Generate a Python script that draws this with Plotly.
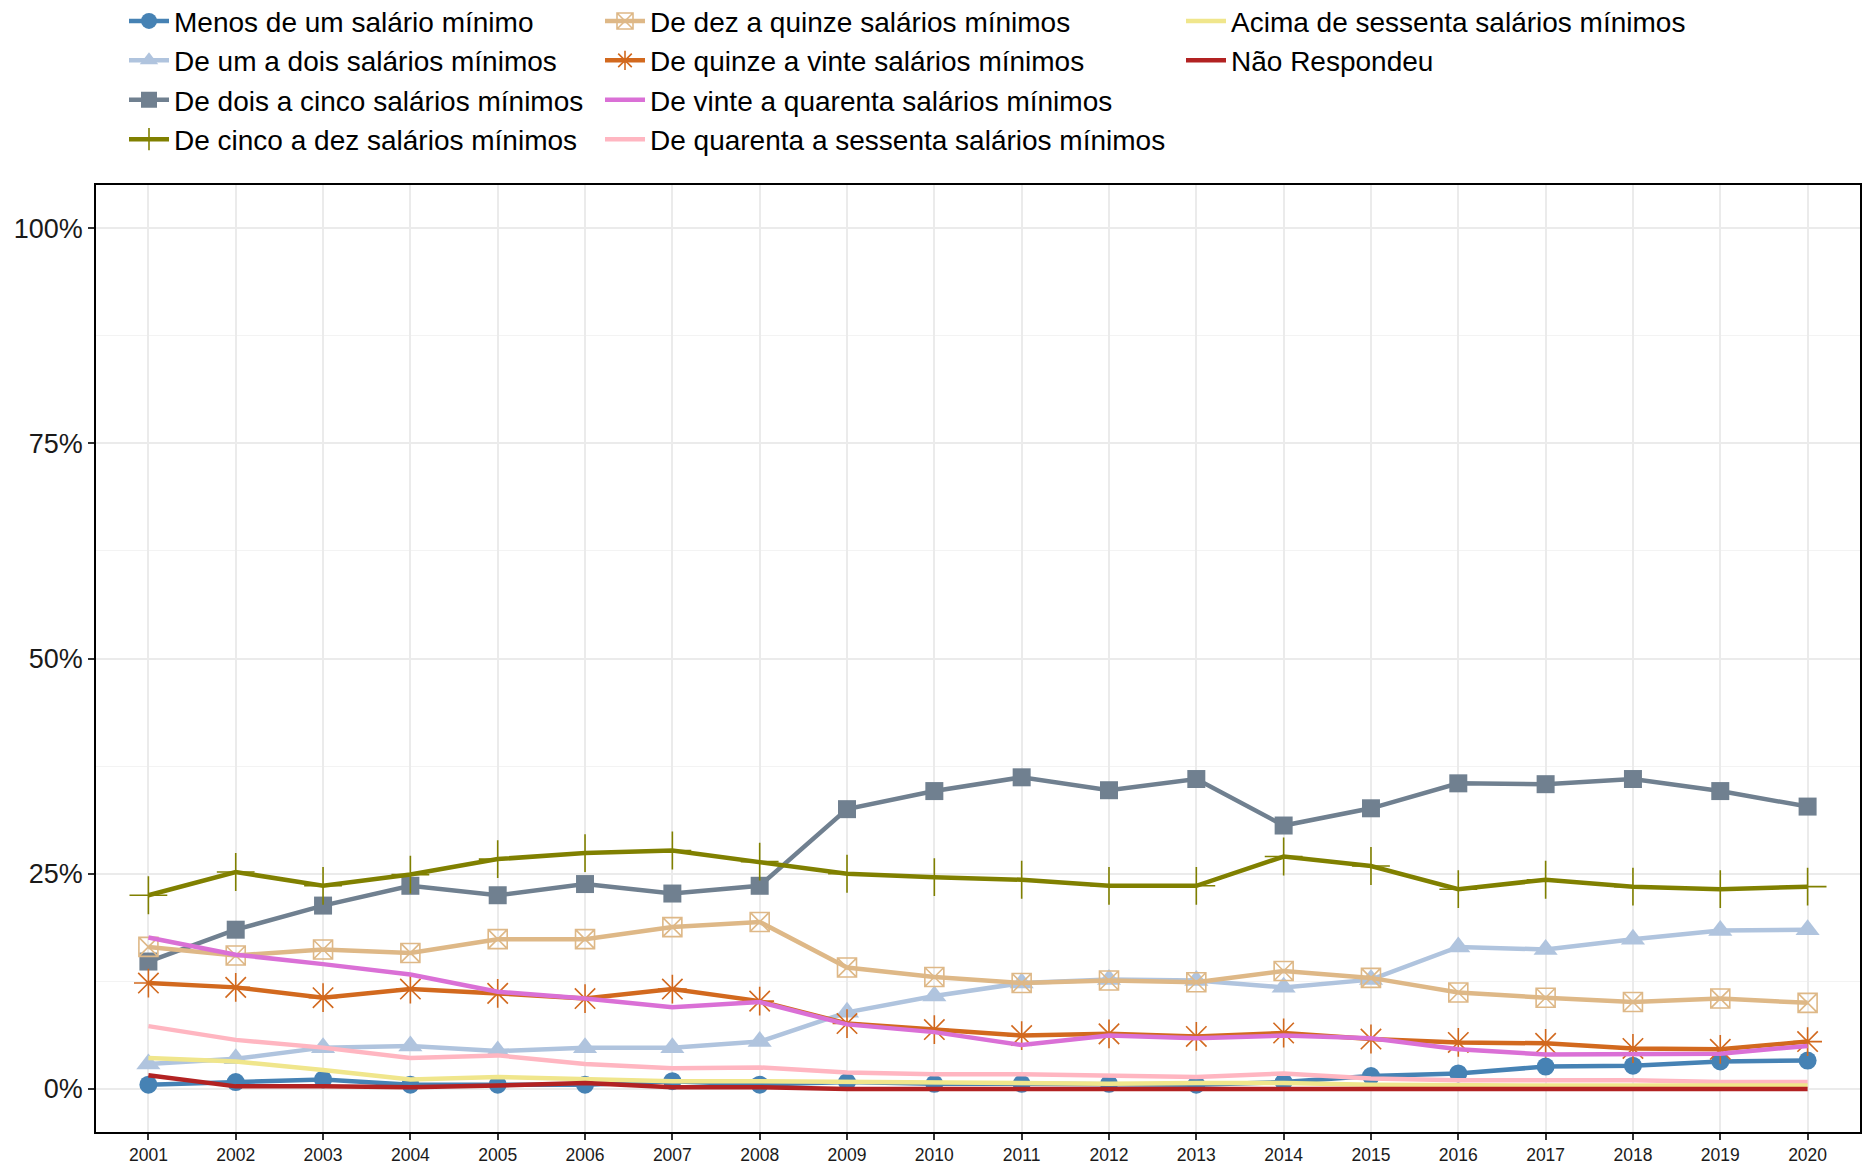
import plotly.graph_objects as go

anos = list(range(2001, 2021))

categorias = [
    "Menos de um salário mínimo",
    "De um a dois salários mínimos",
    "De dois a cinco salários mínimos",
    "De cinco a dez salários mínimos",
    "De dez a quinze salários mínimos",
    "De quinze a vinte salários mínimos",
    "De vinte a quarenta salários mínimos",
    "De quarenta a sessenta salários mínimos",
    "Acima de sessenta salários mínimos",
    "Não Respondeu",
]

# Percentual de respondentes por faixa de renda (%)
menos_de_um = [0.5, 0.8, 1.1, 0.5, 0.5, 0.5, 0.9, 0.5, 0.8, 0.6,
               0.6, 0.6, 0.5, 0.8, 1.5, 1.8, 2.6, 2.7, 3.2, 3.3]
um_a_dois = [2.9, 3.5, 4.8, 5.0, 4.4, 4.8, 4.8, 5.5, 8.9, 10.8,
             12.3, 12.7, 12.6, 11.8, 12.7, 16.5, 16.2, 17.4, 18.4, 18.5]
dois_a_cinco = [14.8, 18.5, 21.3, 23.6, 22.5, 23.8, 22.7, 23.6, 32.5, 34.6,
                36.2, 34.7, 36.0, 30.6, 32.6, 35.5, 35.4, 36.0, 34.6, 32.8]
cinco_a_dez = [22.5, 25.2, 23.6, 24.9, 26.7, 27.4, 27.7, 26.4, 25.0, 24.6,
               24.3, 23.6, 23.6, 27.0, 25.9, 23.2, 24.3, 23.5, 23.2, 23.5]
dez_a_quinze = [16.5, 15.5, 16.2, 15.8, 17.4, 17.4, 18.8, 19.4, 14.1, 13.0,
                12.3, 12.6, 12.4, 13.7, 12.9, 11.2, 10.6, 10.1, 10.5, 10.0]
quinze_a_vinte = [12.3, 11.8, 10.6, 11.6, 11.1, 10.5, 11.6, 10.2, 7.6, 6.9,
                  6.2, 6.4, 6.1, 6.5, 5.8, 5.4, 5.3, 4.7, 4.6, 5.5]
vinte_a_quarenta = [17.6, 15.6, 14.5, 13.3, 11.3, 10.5, 9.5, 10.1, 7.5, 6.6,
                    5.1, 6.2, 5.9, 6.2, 5.9, 4.6, 4.0, 4.0, 4.1, 5.0]
quarenta_a_sessenta = [7.3, 5.7, 4.8, 3.6, 3.9, 2.9, 2.4, 2.5, 1.9, 1.7,
                       1.7, 1.5, 1.4, 1.8, 1.2, 1.0, 1.0, 1.0, 0.8, 0.8]
acima_de_sessenta = [3.6, 3.2, 2.2, 1.1, 1.4, 1.2, 0.9, 0.9, 0.8, 0.7,
                     0.6, 0.6, 0.7, 0.7, 0.5, 0.4, 0.4, 0.4, 0.4, 0.4]
nao_respondeu = [1.6, 0.3, 0.3, 0.2, 0.4, 0.7, 0.2, 0.2, 0.0, 0.0,
                 0.0, 0.0, 0.0, 0.0, 0.0, 0.0, 0.0, 0.0, 0.0, 0.0]

series = [menos_de_um, um_a_dois, dois_a_cinco, cinco_a_dez, dez_a_quinze,
          quinze_a_vinte, vinte_a_quarenta, quarenta_a_sessenta,
          acima_de_sessenta, nao_respondeu]

cores = ["#4682B4", "#B0C4DE", "#708090", "#808000", "#DEB887",
         "#D2691E", "#DA70D6", "#FFB6C1", "#F0E68C", "#B22222"]

# (symbol, size, outline width) or None for plain lines
marcadores = [
    ("circle", 18, 0),
    ("triangle-up", 21, 0),
    ("square", 18, 0),
    ("cross-thin-open", 27, 1.6),
    ("square-x-open", 19, 1.6),
    ("asterisk-open", 24, 1.6),
    None, None, None, None,
]

legendas = ["legend"] * 4 + ["legend2"] * 4 + ["legend3"] * 2

y_ticks = [0, 25, 50, 75, 100]
y_labels = ["0%", "25%", "50%", "75%", "100%"]

fig = go.Figure()
for nome, valores, cor, mk, lg in zip(categorias, series, cores, marcadores, legendas):
    kw = dict(x=anos, y=valores, name=nome, legend=lg,
              line=dict(color=cor, width=4.5))
    if mk is None:
        kw["mode"] = "lines"
    else:
        sym, size, lw = mk
        kw["mode"] = "lines+markers"
        kw["marker"] = dict(symbol=sym, size=size, color=cor,
                            line=dict(color=cor, width=lw))
    fig.add_trace(go.Scatter(**kw))

legend_font = dict(family="Liberation Sans, Arial, sans-serif", size=28, color="#000000")
leg_common = dict(orientation="v", xref="container", yref="paper",
                  xanchor="left", yanchor="top", y=1.1993,
                  font=legend_font, bgcolor="rgba(0,0,0,0)",
                  itemsizing="trace", itemwidth=40, tracegroupgap=0)

fig.update_layout(
    width=1868, height=1165,
    margin=dict(l=96, r=8, t=185, b=33, autoexpand=False),
    paper_bgcolor="white", plot_bgcolor="white",
    font=dict(family="Liberation Sans, Arial, sans-serif", color="#000000"),
    legend=dict(x=124 / 1868, **leg_common),
    legend2=dict(x=600 / 1868, **leg_common),
    legend3=dict(x=1181 / 1868, **leg_common),
    xaxis=dict(
        range=[2000.4, 2020.6], tickmode="array", tickvals=anos,
        ticktext=[str(a) for a in anos],
        showline=True, mirror=True, linecolor="#000000", linewidth=1.6,
        ticks="outside", ticklen=6, tickcolor="#333333", tickwidth=1.5,
        showgrid=True, gridcolor="#EBEBEB", gridwidth=1.6,
        tickfont=dict(size=17.5, color="#1a1a1a"), zeroline=False,
    ),
    yaxis=dict(
        range=[-5, 105], tickmode="array", tickvals=y_ticks, ticktext=y_labels,
        showline=True, mirror=True, linecolor="#000000", linewidth=1.6,
        ticks="outside", ticklen=6, tickcolor="#333333", tickwidth=1.5,
        showgrid=True, gridcolor="#EBEBEB", gridwidth=2,
        minor=dict(tickvals=[12.5, 37.5, 62.5, 87.5], showgrid=True,
                   gridcolor="#F3F3F3", gridwidth=1, ticks=""),
        tickfont=dict(size=27, color="#1a1a1a"), zeroline=False,
    ),
)

fig.write_html("out.html")
